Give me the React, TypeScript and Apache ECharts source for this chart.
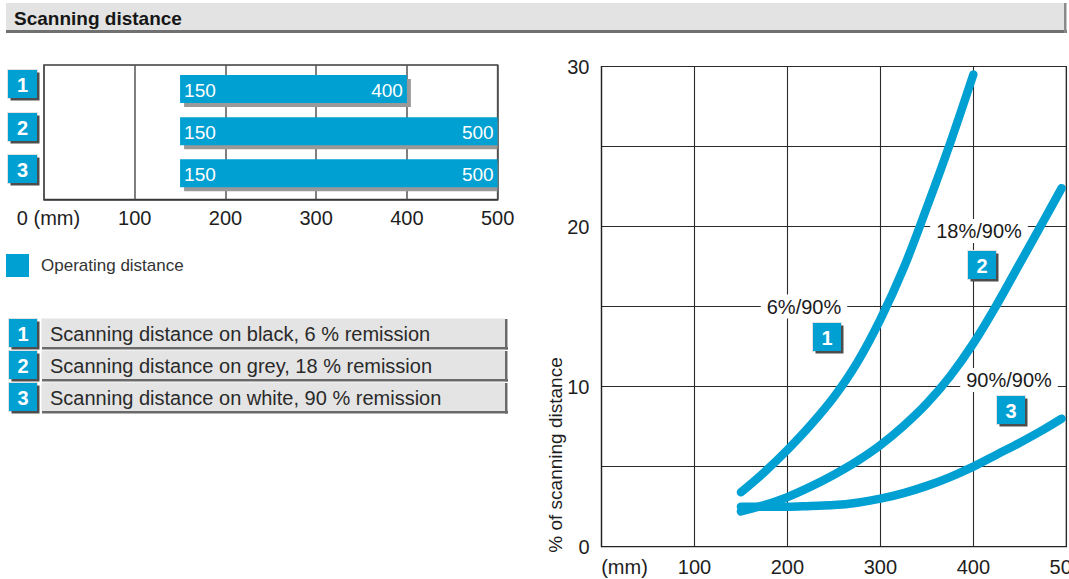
import React, { useEffect, useRef } from "react";
import * as echarts from "echarts";

const BLUE = "#00a0d2";
const FONT = "'Liberation Sans', Arial, sans-serif";
const TEXT = "#1e1e1e";

// ---- left chart: operating distance bars ----
const barCategories = ["1", "2", "3"];
const barStarts = [150, 150, 150];
const barEnds = [400, 500, 500];
const barAxisMin = 0;
const barAxisMax = 500;
const barAxisInterval = 100;

// ---- legend rows ----
const legendRows = [
  "Scanning distance on black, 6 % remission",
  "Scanning distance on grey, 18 % remission",
  "Scanning distance on white, 90 % remission",
];

// ---- right chart: % of scanning distance curves ----
const curveX1 = [150, 175, 200, 225, 250, 275, 300, 325, 350, 375, 400];
const curveY1 = [3.4, 4.65, 6.05, 7.6, 9.35, 11.5, 14.2, 17.4, 21.2, 25.2, 29.5];
const curveX2 = [150, 175, 200, 225, 250, 275, 300, 325, 350, 375, 400, 425, 450, 475, 495];
const curveY2 = [2.2, 2.6, 3.1, 3.75, 4.5, 5.35, 6.35, 7.55, 8.95, 10.65, 12.7, 15.1, 17.7, 20.3, 22.4];
const curveX3 = [150, 175, 200, 225, 250, 275, 300, 325, 350, 375, 400, 425, 450, 475, 495];
const curveY3 = [2.5, 2.5, 2.5, 2.55, 2.6, 2.75, 3.0, 3.35, 3.8, 4.35, 5.0, 5.75, 6.5, 7.3, 8.0];
const curveLabels = ["6%/90%", "18%/90%", "90%/90%"];
const lineXMax = 500;
const lineYMax = 30;

function numBox(x: number, y: number, label: string, w = 28, h = 28, fs = 20, z = 5) {
  return {
    type: "group",
    z,
    children: [
      { type: "rect", shape: { x: x - 1, y: y - 1, width: w + 2, height: h + 2 }, style: { fill: "#e2e2e2" }, z },
      { type: "rect", shape: { x: x + 2.5, y: y + 2.5, width: w, height: h }, style: { fill: "#4d4d4d" }, z },
      { type: "rect", shape: { x, y, width: w, height: h }, style: { fill: BLUE }, z },
      {
        type: "text",
        x: x + w / 2,
        y: y + h / 2 + 1,
        z,
        style: {
          text: label,
          fill: "#ffffff",
          fontSize: fs,
          fontWeight: "bold",
          fontFamily: FONT,
          align: "center",
          verticalAlign: "middle",
          textAlign: "center",
          textVerticalAlign: "middle",
        },
      },
    ],
  };
}

function txt(x: number, y: number, text: string, fs: number, opts: any = {}) {
  const align = opts.align || "left";
  return {
    type: "text",
    x,
    y,
    z: opts.z ?? 4,
    rotation: opts.rotation || 0,
    style: {
      text,
      fill: opts.fill || TEXT,
      fontSize: fs,
      fontWeight: opts.weight || "normal",
      fontFamily: FONT,
      align,
      verticalAlign: "middle",
      textAlign: align,
      textVerticalAlign: "middle",
      backgroundColor: opts.bg,
      padding: opts.padding,
    },
  };
}

export default function App() {
  const ref = useRef<HTMLDivElement>(null);

  useEffect(() => {
    if (!ref.current) return;
    const chart = echarts.init(ref.current, undefined, { renderer: "svg" });

    const graphics: any[] = [];
    // title band
    graphics.push({ type: "rect", shape: { x: 6, y: 3, width: 1060, height: 30 }, style: { fill: "#e3e3e3" }, z: 1 });
    graphics.push({ type: "rect", shape: { x: 6, y: 30, width: 1061, height: 3 }, style: { fill: "#707070" }, z: 1 });
    graphics.push({ type: "rect", shape: { x: 1064, y: 3, width: 2.5, height: 30 }, style: { fill: "#8a8a8a" }, z: 1 });
    graphics.push(txt(14, 18, "Scanning distance", 19, { weight: "bold", fill: "#161616" }));

    // left numbered boxes
    const leftBoxTops = [70, 113, 155];
    barCategories.forEach((c, i) => graphics.push(numBox(8, leftBoxTops[i], c, 29, 28, 20)));

    // operating distance legend
    graphics.push({ type: "rect", shape: { x: 6, y: 254, width: 23, height: 23 }, style: { fill: BLUE }, z: 2 });
    graphics.push(txt(41, 265, "Operating distance", 17, { fill: "#333333" }));

    // legend rows
    legendRows.forEach((row, i) => {
      const y = 319 + i * 32;
      graphics.push({ type: "rect", shape: { x: 41, y: y - 1, width: 464, height: 29 }, style: { fill: "#f0f0f0" }, z: 1 });
      graphics.push({ type: "rect", shape: { x: 42, y, width: 463, height: 28 }, style: { fill: "#e4e4e4" }, z: 1 });
      graphics.push({ type: "rect", shape: { x: 42, y: y + 28, width: 466, height: 2.5 }, style: { fill: "#6a6a6a" }, z: 1 });
      graphics.push({ type: "rect", shape: { x: 505, y, width: 2.5, height: 30.5 }, style: { fill: "#6a6a6a" }, z: 1 });
      graphics.push(txt(50, y + 14.5, row, 20, { fill: "#2a2a2a" }));
      graphics.push(numBox(9, y, barCategories[i], 28, 28, 20));
    });

    // right chart annotations
    const annPos = [
      { tx: 804, ty: 306.5, bx: 813, by: 323 },
      { tx: 979, ty: 231, bx: 968, by: 251 },
      { tx: 1009, ty: 380, bx: 997, by: 396 },
    ];
    curveLabels.forEach((l, i) => {
      const p = annPos[i];
      graphics.push(txt(p.tx, p.ty, l, 20, { align: "center", bg: "#ffffff", padding: [2, 6, 2, 6], z: 1, fill: "#1a1a1a" }));
      graphics.push(numBox(p.bx, p.by, barCategories[i], 28, 28, 20));
    });

    // y axis name
    graphics.push(txt(555, 455, "% of scanning distance", 19, { align: "center", rotation: Math.PI / 2 }));

    const option: any = {
      animation: false,
      backgroundColor: "#ffffff",
      textStyle: { fontFamily: FONT },
      grid: [
        {
          left: 44,
          top: 65,
          width: 453.6,
          height: 134.5,
          containLabel: false,
          outerBoundsMode: "none",
          show: true,
          borderColor: "#3a3a3a",
          borderWidth: 1.5,
          backgroundColor: "transparent",
        },
        {
          left: 601.5,
          top: 66.5,
          width: 464.8,
          height: 480.2,
          containLabel: false,
          outerBoundsMode: "none",
          show: true,
          borderColor: "#222222",
          borderWidth: 1.2,
          backgroundColor: "transparent",
        },
      ],
      xAxis: [
        {
          type: "value",
          gridIndex: 0,
          min: barAxisMin,
          max: barAxisMax,
          interval: barAxisInterval,
          axisLine: { show: true, lineStyle: { color: "#3a3a3a", width: 1.5 } },
          axisTick: { show: false },
          splitLine: { show: true, lineStyle: { color: "#555555", width: 1.5 } },
          axisLabel: {
            margin: 8,
            fontSize: 20,
            color: TEXT,
            fontFamily: FONT,
            showMinLabel: true,
            showMaxLabel: true,
            hideOverlap: false,
            formatter: (v: number) => (v === 0 ? "{a|0 (mm)}" : String(v)),
            rich: { a: { fontSize: 20, fontFamily: FONT, color: TEXT, padding: [0, 0, 0, 9] } },
          },
        },
        {
          type: "value",
          gridIndex: 1,
          min: 0,
          max: lineXMax,
          interval: 100,
          axisLine: { show: true, lineStyle: { color: "#222222", width: 1.2 } },
          axisTick: { show: false },
          splitLine: { show: true, lineStyle: { color: "#2a2a2a", width: 1.1 } },
          axisLabel: {
            margin: 10,
            fontSize: 20,
            color: TEXT,
            fontFamily: FONT,
            showMinLabel: true,
            showMaxLabel: true,
            hideOverlap: false,
            formatter: (v: number) => (v === 0 ? "{a|(mm)}" : String(v)),
            rich: { a: { fontSize: 20, fontFamily: FONT, color: TEXT, padding: [0, 0, 0, 46] } },
          },
        },
      ],
      yAxis: [
        {
          type: "value",
          gridIndex: 0,
          min: 0.43,
          max: 3.62,
          inverse: true,
          show: false,
        },
        {
          type: "value",
          gridIndex: 1,
          min: 0,
          max: lineYMax,
          interval: 5,
          axisLine: { show: true, lineStyle: { color: "#222222", width: 1.2 } },
          axisTick: { show: false },
          splitLine: { show: true, lineStyle: { color: "#2a2a2a", width: 1.1 } },
          axisLabel: {
            margin: 12,
            fontSize: 20,
            color: TEXT,
            fontFamily: FONT,
            showMinLabel: true,
            showMaxLabel: true,
            formatter: (v: number) => (v % 10 === 0 ? String(v) : ""),
          },
        },
      ],
      series: [
        {
          type: "custom",
          xAxisIndex: 0,
          yAxisIndex: 0,
          z: 3,
          encode: { x: [0, 1], y: 2 },
          data: barCategories.map((c, i) => [barStarts[i], barEnds[i], i + 1]),
          renderItem: (params: any, api: any) => {
            const s = api.value(0);
            const e = api.value(1);
            const row = api.value(2);
            const p0 = api.coord([s, row]);
            const p1 = api.coord([e, row]);
            const pm = api.coord([barAxisMax, row]);
            const h = 28;
            const w = p1[0] - p0[0];
            const shadowW = Math.min(p1[0] + 4, pm[0]) - (p0[0] + 4);
            return {
              type: "group",
              children: [
                { type: "rect", shape: { x: p0[0] + 4, y: p0[1] - h / 2 + 4, width: shadowW, height: h }, style: { fill: "#999999" } },
                { type: "rect", shape: { x: p0[0], y: p0[1] - h / 2, width: w, height: h }, style: { fill: BLUE } },
                {
                  type: "text",
                  x: p0[0] + 4,
                  y: p0[1] + 1,
                  style: { text: String(s), fill: "#ffffff", fontSize: 19, fontFamily: FONT, align: "left", verticalAlign: "middle", textAlign: "left", textVerticalAlign: "middle" },
                },
                {
                  type: "text",
                  x: p1[0] - 4,
                  y: p1[1] + 1,
                  style: { text: String(e), fill: "#ffffff", fontSize: 19, fontFamily: FONT, align: "right", verticalAlign: "middle", textAlign: "right", textVerticalAlign: "middle" },
                },
              ],
            };
          },
        },
        ...[
          [curveX1, curveY1],
          [curveX2, curveY2],
          [curveX3, curveY3],
        ].map(([xs, ys], k) => ({
          type: "line",
          name: curveLabels[k],
          xAxisIndex: 1,
          yAxisIndex: 1,
          z: 3,
          symbol: "none",
          showSymbol: false,
          smooth: 0.35,
          data: xs.map((x, i) => [x, ys[i]]),
          lineStyle: { color: BLUE, width: 8.5, cap: "round", join: "round" },
        })),
      ],
      graphic: graphics,
    };

    chart.setOption(option);
    return () => chart.dispose();
  }, []);

  return (
    <div
      ref={ref}
      style={{ position: "absolute", left: 0, top: 0, width: 1069, height: 579, background: "#fff" }}
    />
  );
}
